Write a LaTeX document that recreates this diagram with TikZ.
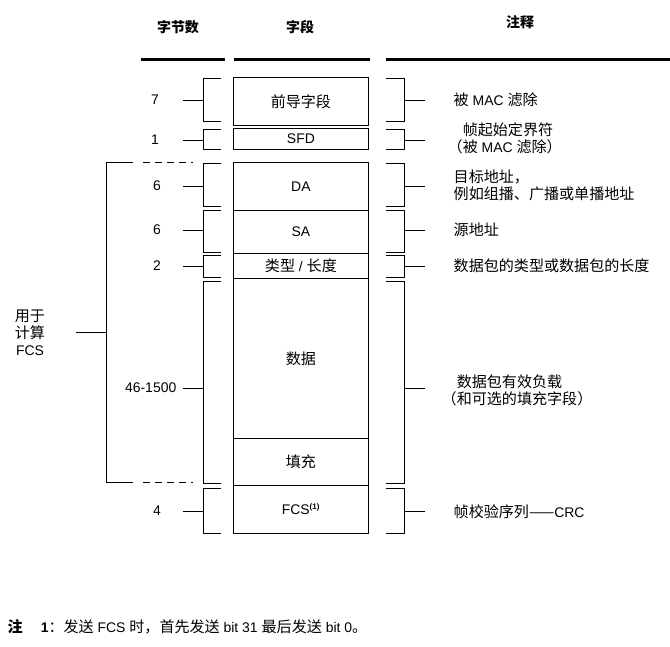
\documentclass[tikz,border=0pt]{standalone}
\usepackage{fontspec}
\setmainfont{Liberation Sans}
\newfontfamily\cjk{Noto Sans CJK SC}[Scale=1.08]
\usetikzlibrary{positioning}

% brackets: top, bottom, tick y
\newcommand\leftbrk[3]{\draw (221,#1) -- (203,#1) -- (203,#2) -- (221,#2); \draw (183,#3) -- (203,#3);}
\newcommand\rightbrk[3]{\draw (386,#1) -- (404,#1) -- (404,#2) -- (386,#2); \draw (404,#3) -- (425,#3);}

\begin{document}
\begin{tikzpicture}[x=1bp,y=-1bp,line width=0.8bp,font=\fontsize{14}{17}\selectfont,
  field/.style={draw,minimum width=135bp,anchor=north west,inner sep=0pt},
  num/.style={anchor=center},
  note/.style={anchor=west,align=left},
  head/.style={font=\fontsize{13}{16}\selectfont\bfseries\cjk}]
%%
  \useasboundingbox (0,0) rectangle (670,647);
  \node[head] (hbytes) at (178,27) {字节数};
  \node[head] (hfield) at (300,27) {字段};
  \node[head] (hnote) at (520,22) {注释};
  \draw[line width=3bp] (141,60) -- (225,60) (234,60) -- (370,60) (386,60) -- (670,60);
%
  \node[field,minimum height=48bp] (pre) at (233,77) {\cjk 前导字段};
  \node[field,minimum height=21bp] (sfd) at (233,128) {SFD};
  \node[field,minimum height=48bp] (da) at (233,162) {DA};
  \node[field,minimum height=43bp] (sa) at (233,210) {SA};
  \node[field,minimum height=25bp] (type) at (233,253) {{\cjk 类型} / {\cjk 长度}};
  \node[field,minimum height=160bp] (data) at (233,278) {\cjk 数据};
  \node[field,minimum height=47bp] (pad) at (233,438) {\cjk 填充};
  \node[field,minimum height=48bp] (fcs) at (233,485) {FCS\textsuperscript{\bfseries\footnotesize(1)}};
%
  \node[num] (n7) at (155,100) {7};
  \node[num] (n1) at (155,140) {1};
  \node[num] (n6a) at (157,186) {6};
  \node[num] (n6b) at (157,230) {6};
  \node[num] (n2) at (157,266) {2};
  \node[num,anchor=east] (n46) at (180,388) {46-1500};
  \node[num] (n4) at (157,511) {4};
  \leftbrk{78}{121}{100}
  \leftbrk{129}{149}{140}
  \leftbrk{163}{206}{186}
  \leftbrk{210}{252}{230}
  \leftbrk{255}{277}{266}
  \leftbrk{281}{483}{388}
  \leftbrk{488}{533}{511}
%
  \rightbrk{78}{121}{100}
  \rightbrk{129}{149}{140}
  \rightbrk{163}{206}{186}
  \rightbrk{210}{252}{230}
  \rightbrk{255}{277}{266}
  \rightbrk{281}{483}{388}
  \rightbrk{488}{533}{511}
  \node[note] (c1) at (450,100) {{\cjk 被} MAC {\cjk 滤除}};
  \node[note] (c2) at (444,138) {{\cjk 　帧起始定界符}\\{\cjk （被} MAC {\cjk 滤除）}};
  \node[note] (c3) at (450,185) {{\cjk 目标地址，}\\{\cjk 例如组播、广播或单播地址}};
  \node[note] (c4) at (450,230) {\cjk 源地址};
  \node[note] (c5) at (450,266) {\cjk 数据包的类型或数据包的长度};
  \node[note] (c6) at (438,390) {{\cjk 　数据包有效负载}\\{\cjk （和可选的填充字段）}};
  \node[note] (c7) at (450,512) {{\cjk 帧校验序列——}CRC};
%
  \draw (133,162) -- (106,162) -- (106,482) -- (133,482);
  \draw[dash pattern=on 7bp off 5bp] (143,162) -- (193,162) (143,482) -- (193,482);
  \draw (76,332) -- (106,332);
  \node[align=center] (fcsuse) at (30,333) {{\cjk 用于}\\{\cjk 计算}\\FCS};
%
  \node[anchor=west] (foot) at (4,627) {{\bfseries\cjk 注}\hspace{18bp}{\bfseries 1}{\cjk ：发送} FCS {\cjk 时，首先发送} bit 31 {\cjk 最后发送} bit 0{\cjk 。}};
%
\end{tikzpicture}
\end{document}
